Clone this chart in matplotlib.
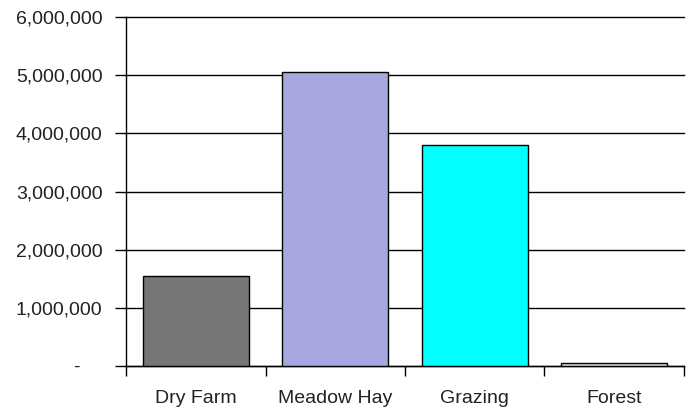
import matplotlib
matplotlib.use("Agg")
import matplotlib.pyplot as plt
from matplotlib.ticker import FuncFormatter

# data
categories = ["Dry Farm", "Meadow Hay", "Grazing", "Forest"]
values = [1540000, 5060000, 3800000, 50000]
bar_colors = ["#767676", "#a8a8e0", "#00ffff", "#d8d8d8"]
y_ticks = [0, 1000000, 2000000, 3000000, 4000000, 5000000, 6000000]

plt.rcParams['font.family'] = ['Liberation Sans', 'DejaVu Sans']

fig = plt.figure(figsize=(6.89, 4.11), dpi=100)
ax = fig.add_axes([0.1829, 0.1095, 0.8098, 0.8491])

x = list(range(len(categories)))
ax.bar(x, values, width=0.76, color=bar_colors, edgecolor="black", linewidth=1, zorder=3)

ax.set_xlim(-0.5, len(categories) - 0.5)
ax.set_ylim(0, 6000000)

def fmt(v, pos):
    if v == 0:
        return "-    "
    return f"{int(v):,}"

ax.set_yticks(y_ticks)
ax.yaxis.set_major_formatter(FuncFormatter(fmt))
ax.grid(axis="y", color="black", linewidth=1, zorder=1)
for gl in ax.get_ygridlines():
    gl.set_clip_on(False)

ax.set_xticks(x)
ax.set_xticklabels(categories)
ax.set_xticks([i - 0.5 for i in range(len(categories) + 1)], minor=True)
ax.tick_params(axis="x", which="major", length=0, pad=17, labelsize=14, colors="#222222")
ax.tick_params(axis="x", which="minor", length=7, width=1, color="black", direction="out")
ax.tick_params(axis="y", length=8, width=1, color="black", pad=9, labelsize=14, labelcolor="#222222")

for s in ["top", "right"]:
    ax.spines[s].set_visible(False)
ax.spines["left"].set_linewidth(1)
ax.spines["bottom"].set_linewidth(1)

plt.savefig("out.png", dpi=100)
